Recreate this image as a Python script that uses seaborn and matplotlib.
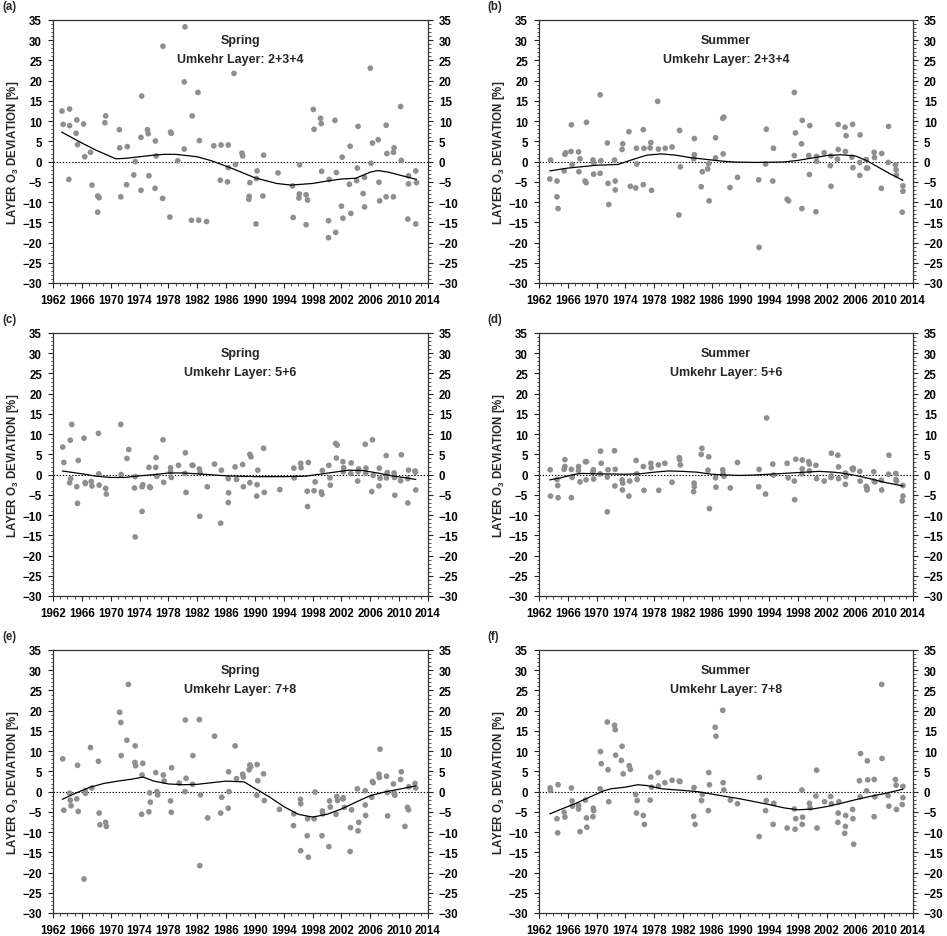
import numpy as np
import pandas as pd
import matplotlib
matplotlib.use("Agg")
import matplotlib.pyplot as plt
from matplotlib.ticker import MultipleLocator
import seaborn as sns

# ---------------- data ----------------
a_year = [1963.25, 1963.4, 1964.2, 1964.3, 1964.3, 1965.3, 1965.2, 1965.4, 1966.25, 1966.4,
          1967.2, 1967.4, 1968.2, 1968.4, 1968.2, 1969.3, 1969.2, 1971.2, 1971.25, 1971.4,
          1972.3, 1972.2, 1973.2, 1973.4, 1974.3, 1974.2, 1974.2, 1975.1, 1975.2, 1975.3,
          1976.2, 1976.3, 1976.15, 1977.25, 1977.2, 1978.3, 1978.4, 1978.2, 1979.3, 1980.3,
          1980.2, 1980.2, 1981.3, 1981.2, 1982.1, 1982.3, 1982.2, 1983.3, 1984.3, 1985.2,
          1985.3, 1986.3, 1986.2, 1986.3, 1987.1, 1987.3, 1988.2, 1988.3, 1989.2, 1989.15,
          1989.3, 1990.3, 1990.2, 1990.15, 1991.2, 1991.1, 1993.2, 1995.2, 1995.3, 1996.2,
          1996.15, 1996.1, 1997.1, 1997.3, 1997.1, 1998.1, 1998.2, 1999.1, 1999.2, 1999.25,
          2000.3, 2000.2, 2000.2, 2001.1, 2001.3, 2001.2, 2002.1, 2002.0, 2002.2, 2003.2,
          2003.1, 2003.3, 2004.3, 2004.2, 2004.1, 2005.2, 2005.0, 2005.2, 2006.0, 2006.3,
          2006.1, 2007.1, 2007.2, 2007.3, 2008.2, 2008.3, 2008.2, 2009.2, 2009.3, 2009.2,
          2010.2, 2010.3, 2011.3, 2011.3, 2011.2, 2012.3, 2012.4, 2012.3]
a_val = [12.5, 9.2, -4.4, 13.0, 8.9, 10.3, 7.0, 4.2, 9.3, 1.2,
         2.3, -5.8, -8.5, -8.9, -12.5, 11.3, 9.6, 7.9, 3.4, -8.7,
         3.7, -5.7, -3.3, 0.0, 16.2, 6.0, -7.1, 7.9, 6.9, -3.5,
         5.1, 1.4, -6.6, 28.5, -9.1, 7.3, 7.0, -13.7, 0.2, 33.3,
         19.7, 3.1, 11.3, -14.5, 17.1, 5.2, -14.5, -14.8, 3.9, -4.6,
         4.1, 4.1, -5.0, -1.5, 21.8, -0.7, 2.1, 1.4, -8.6, -9.3,
         -5.2, -2.3, -4.2, -15.4, 1.6, -8.5, -2.8, -6.0, -13.8, -0.8,
         -8.0, -9.0, -8.2, -9.5, -15.6, 12.9, 8.0, 10.7, 9.4, -2.4,
         -4.4, -14.6, -18.8, 10.2, -2.7, -17.5, 1.1, -11.0, -14.0, 3.8,
         -5.6, -12.8, 8.7, -1.6, -4.7, -3.9, -7.9, -11.2, 23.1, 4.6,
         -0.4, 5.4, -5.1, -9.7, 9.0, 2.0, -8.7, 2.3, 3.4, -8.7,
         13.6, 0.3, -3.5, -5.5, -14.2, -2.3, -5.2, -15.4]
a_fit_year = [1963.2, 1966, 1968, 1970.7, 1972, 1974, 1976, 1977.5, 1979, 1982, 1984, 1987,
              1990, 1993, 1995, 1998, 2000, 2002, 2004, 2006, 2007, 2008.5, 2010, 2012.4]
a_fit_val = [7.3, 4.6, 2.8, 0.7, 0.8, 1.2, 1.6, 1.8, 1.8, 1.2, 0.2, -1.8,
             -4.0, -5.4, -5.8, -5.4, -4.8, -4.3, -4.1, -2.6, -2.2, -2.6, -3.3, -4.4]

b_year = [1963.6, 1963.5, 1964.5, 1964.5, 1964.65, 1965.5, 1965.6, 1965.7, 1966.5, 1966.45,
          1966.6, 1967.5, 1967.7, 1967.55, 1968.6, 1968.4, 1968.55, 1969.5, 1969.6, 1969.6,
          1970.5, 1970.6, 1970.5, 1971.5, 1971.6, 1971.7, 1972.5, 1972.6, 1972.6, 1973.65,
          1973.55, 1974.5, 1974.7, 1975.55, 1975.6, 1975.45, 1976.5, 1976.6, 1976.5, 1977.55,
          1977.45, 1977.65, 1978.5, 1978.6, 1979.55, 1980.5, 1981.55, 1981.65, 1981.45, 1983.6,
          1983.6, 1983.5, 1984.7, 1984.55, 1985.6, 1985.45, 1985.65, 1986.55, 1986.55, 1987.55,
          1987.7, 1987.6, 1988.55, 1989.6, 1992.6, 1992.55, 1993.5, 1993.6, 1994.6, 1994.5,
          1996.5, 1996.7, 1997.5, 1997.65, 1997.5, 1998.6, 1998.5, 1998.55, 1999.65, 1999.5,
          1999.6, 2000.5, 2000.6, 2000.6, 2001.65, 2002.5, 2002.6, 2002.6, 2003.6, 2003.6,
          2003.5, 2004.55, 2004.7, 2004.6, 2005.6, 2005.5, 2005.65, 2006.65, 2006.6, 2006.6,
          2007.5, 2007.55, 2007.7, 2008.6, 2008.65, 2009.65, 2009.6, 2010.6, 2010.55, 2011.55,
          2011.65, 2011.7, 2012.6, 2012.6, 2012.5]
b_val = [0.4, -4.3, -4.8, -8.7, -11.6, -2.3, 1.8, 2.2, 9.1, 2.5,
         -0.7, 2.4, 0.7, -2.5, 9.7, -4.8, -5.2, 0.4, -0.3, -3.1,
         16.5, 0.2, -2.9, 4.6, -5.4, -10.6, 0.4, -4.8, -7.0, 4.4,
         3.0, 7.4, -6.1, 3.3, -0.6, -6.5, 7.9, 3.3, -5.7, 4.7,
         3.4, -7.1, 14.9, 3.1, 3.3, 3.6, 7.7, -1.3, -13.2, 5.7,
         1.7, 0.7, -2.5, -6.2, -0.5, -1.8, -9.7, 5.9, 0.9, 10.7,
         11.0, 1.9, -6.4, -3.9, -21.2, -4.5, -0.6, 8.0, 3.3, -4.8,
         -9.3, -9.7, 17.1, 7.1, 1.5, 10.2, 4.4, -11.6, 8.9, 1.5,
         -3.2, -12.4, 1.3, 0.1, 2.2, -1.0, 1.4, -6.1, 9.2, 3.0,
         0.6, 8.5, 6.4, 2.5, 9.2, 1.1, -1.5, 6.6, -0.2, -3.4,
         0.5, -1.6, -1.6, 2.3, 1.0, 2.0, -6.6, 8.7, -0.2, -0.8,
         -2.0, -3.3, -6.0, -7.3, -12.5]
b_fit_year = [1963.5, 1966, 1970, 1973, 1975, 1977, 1979, 1981, 1983, 1985, 1987, 1989,
              1992, 1996, 1998, 2000, 2002, 2004, 2006, 2007.5, 2009, 2011, 2012.6]
b_fit_val = [-2.3, -1.6, -0.9, -0.7, 0.5, 1.6, 1.9, 1.6, 1.0, 0.6, 0.2, -0.1,
             -0.2, -0.1, 0.3, 0.9, 1.5, 1.7, 1.4, 0.3, -1.2, -3.2, -4.6]

c_year = [1963.35, 1963.5, 1964.4, 1964.6, 1964.45, 1964.3, 1965.3, 1965.5, 1965.4, 1966.3,
          1966.45, 1966.5, 1967.3, 1967.4, 1968.3, 1968.35, 1968.4, 1969.3, 1969.4, 1971.4,
          1971.45, 1972.25, 1972.5, 1973.3, 1973.4, 1973.4, 1974.35, 1974.45, 1974.35, 1975.3,
          1975.4, 1975.5, 1976.3, 1976.25, 1976.4, 1977.25, 1977.35, 1978.3, 1978.3, 1978.4,
          1979.4, 1980.35, 1980.3, 1980.45, 1981.3, 1981.4, 1982.3, 1982.4, 1982.35, 1983.4,
          1984.4, 1985.35, 1985.25, 1986.3, 1986.35, 1986.3, 1987.25, 1987.45, 1988.3, 1988.4,
          1989.3, 1989.45, 1989.3, 1990.4, 1990.3, 1990.25, 1991.2, 1991.3, 1993.45, 1995.4,
          1995.45, 1996.35, 1996.4, 1997.4, 1997.25, 1997.3, 1998.35, 1998.2, 1999.35, 1999.2,
          1999.3, 2000.25, 2000.4, 2000.45, 2001.2, 2001.4, 2001.3, 2002.2, 2002.3, 2002.25,
          2003.35, 2003.3, 2004.25, 2004.4, 2004.3, 2005.3, 2005.4, 2005.35, 2006.3, 2006.4,
          2006.2, 2007.25, 2007.35, 2007.2, 2008.2, 2008.35, 2008.25, 2009.3, 2009.35, 2009.4,
          2010.3, 2010.2, 2011.2, 2011.3, 2011.2, 2012.2, 2012.25, 2012.3]
c_val = [6.8, 3.0, 8.5, 12.4, -1.0, -2.0, -3.0, 3.5, -7.1, 9.0,
         -2.0, -2.2, -1.7, -2.8, 10.2, 0.2, -2.6, -3.4, -4.8, 12.4,
         0.0, 4.0, 6.2, -3.3, -0.5, -15.4, -9.1, -2.5, -3.0, 1.8,
         -3.0, -3.2, 4.2, 1.8, -0.4, 8.6, -1.9, 1.7, 0.7, -0.7,
         2.3, 5.4, 0.3, -4.4, 2.3, 2.3, 1.4, 0.5, -10.3, -3.0,
         2.6, 1.1, -12.0, -1.0, -4.5, -6.9, 1.9, -1.2, 2.5, -3.0,
         5.0, 4.4, -2.0, 1.1, -2.5, -5.3, 6.5, -4.4, -3.7, 1.6,
         -0.8, 2.8, 1.7, 3.0, -4.1, -7.9, -1.8, -4.0, 1.0, -4.3,
         -4.9, 2.3, -0.8, -2.6, 7.7, 7.3, 4.1, 3.2, 1.7, 0.7,
         2.9, 0.3, -1.6, 1.4, 0.7, 7.5, 1.6, 0.4, 8.6, -0.2,
         -4.2, 1.6, -0.9, -2.8, 4.7, 0.5, -0.8, 0.4, -0.7, -5.1,
         4.9, -1.5, -7.0, 1.1, -1.0, 0.9, 0.6, -3.8]
c_fit_year = [1963.3, 1966, 1968, 1970, 1972, 1974, 1976, 1978, 1980, 1982, 1986, 1990,
              1994, 1997, 1999, 2001, 2003, 2005, 2007, 2009, 2011, 2012.3]
c_fit_val = [0.9, 0.2, -0.4, -0.7, -0.7, -0.3, 0.0, 0.4, 0.4, 0.2, -0.3, -0.5,
             -0.5, -0.4, 0.1, 0.6, 1.1, 1.0, 0.4, -0.3, -0.8, -1.2]

d_year = [1963.55, 1963.6, 1964.5, 1964.6, 1964.65, 1965.6, 1965.6, 1965.5, 1966.5, 1966.6,
          1966.5, 1967.5, 1967.5, 1967.7, 1968.45, 1968.6, 1968.55, 1969.55, 1969.5, 1969.6,
          1970.55, 1970.65, 1970.5, 1971.5, 1971.6, 1971.5, 1972.5, 1972.6, 1972.55, 1973.55,
          1973.65, 1973.6, 1974.6, 1974.5, 1975.5, 1975.6, 1975.65, 1976.5, 1976.6, 1977.55,
          1977.6, 1978.6, 1978.65, 1979.5, 1980.5, 1981.5, 1981.55, 1981.65, 1983.55, 1983.6,
          1983.5, 1984.65, 1984.55, 1985.6, 1985.5, 1985.7, 1986.55, 1986.6, 1987.55, 1987.7,
          1987.6, 1988.6, 1989.6, 1992.6, 1992.55, 1993.65, 1993.5, 1994.5, 1994.6, 1996.5,
          1996.65, 1997.7, 1997.5, 1997.55, 1998.6, 1998.6, 1998.55, 1999.5, 1999.6, 1999.6,
          2000.5, 2000.6, 2001.65, 2002.65, 2002.6, 2002.65, 2003.55, 2003.65, 2003.65, 2004.6,
          2004.65, 2004.6, 2005.55, 2005.7, 2005.65, 2006.6, 2006.65, 2007.5, 2007.6, 2007.65,
          2008.55, 2008.6, 2008.7, 2009.6, 2009.65, 2010.65, 2010.6, 2011.6, 2011.65, 2011.7,
          2012.6, 2012.6, 2012.5]
d_val = [1.2, -5.3, -1.2, -2.7, -5.7, 3.7, 2.0, 1.3, 1.3, -0.7,
         -5.7, 2.0, 1.0, -1.8, 3.2, 3.2, -1.3, 1.2, 0.6, -1.1,
         5.8, 2.8, 0.2, -9.2, 1.2, -0.6, 5.9, 1.3, -2.8, -1.3,
         -2.1, -3.8, -1.6, -5.3, 3.5, 0.2, -1.2, 2.0, -3.9, 2.8,
         1.7, 2.4, -3.9, 2.8, -1.9, 4.2, 3.7, 2.4, -2.1, -2.9,
         -4.2, 6.5, 5.0, 4.4, 1.1, -8.4, -0.8, -3.1, 1.2, -0.4,
         0.3, -3.3, 3.0, 1.3, -3.0, 14.0, -4.8, 2.6, -0.1, 2.8,
         -0.8, 3.8, -1.6, -6.2, 3.6, 1.4, 0.2, 3.2, 2.6, 0.9,
         2.3, -1.0, -1.6, 5.3, -0.7, -0.3, 4.8, 1.9, -1.0, 0.4,
         -0.5, -2.4, 1.5, 1.6, 1.2, 0.8, -1.6, -2.9, -3.8, -3.4,
         0.7, -1.6, -1.8, -1.4, -3.8, 4.8, 0.1, 0.3, -1.2, -1.6,
         -2.7, -5.3, -6.5]
d_fit_year = [1963.5, 1965, 1967, 1968, 1970, 1974, 1976, 1978, 1980, 1982, 1984, 1986,
              1988, 1990, 1992, 1994, 1996, 1999, 2001, 2003, 2004, 2006, 2008, 2010, 2012.6]
d_fit_val = [-1.3, -0.8, 0.1, 0.3, 0.2, 0.1, 0.2, 0.6, 0.9, 0.8, 0.6, 0.1,
             -0.1, -0.2, -0.1, 0.1, 0.3, 0.6, 0.8, 0.6, 0.4, -0.2, -1.0, -1.9, -2.8]

e_year = [1963.35, 1963.5, 1964.3, 1964.4, 1964.5, 1965.4, 1965.3, 1965.5, 1966.3, 1966.45,
          1966.5, 1967.2, 1967.4, 1968.3, 1968.4, 1968.5, 1969.3, 1969.4, 1971.25, 1971.4,
          1971.45, 1972.25, 1972.45, 1973.4, 1973.35, 1973.45, 1974.45, 1974.35, 1974.3, 1975.4,
          1975.5, 1975.3, 1976.25, 1976.4, 1976.5, 1977.3, 1977.4, 1978.45, 1978.3, 1978.4,
          1979.5, 1980.35, 1980.45, 1980.3, 1981.4, 1981.35, 1982.3, 1982.45, 1982.35, 1983.45,
          1984.4, 1985.4, 1985.25, 1986.35, 1986.4, 1986.3, 1987.25, 1987.45, 1988.3, 1988.4,
          1989.3, 1989.4, 1989.2, 1990.3, 1990.4, 1990.25, 1991.2, 1991.3, 1993.4, 1995.4,
          1995.35, 1996.3, 1996.35, 1996.35, 1997.3, 1997.25, 1997.4, 1998.35, 1998.2, 1999.35,
          1999.4, 1999.3, 2000.35, 2000.45, 2000.25, 2001.35, 2001.45, 2001.25, 2002.25, 2002.2,
          2002.4, 2003.4, 2003.25, 2003.2, 2004.2, 2004.4, 2004.3, 2005.3, 2005.3, 2005.35,
          2006.3, 2006.4, 2006.2, 2007.2, 2007.35, 2007.25, 2008.25, 2008.35, 2008.4, 2009.2,
          2009.3, 2009.4, 2010.3, 2010.2, 2010.8, 2011.15, 2011.3, 2011.35, 2012.2, 2012.3]
e_val = [8.1, -4.6, -0.4, -2.1, -3.5, 6.5, -1.8, -4.9, -21.6, 0.2,
         -0.4, 10.9, 0.9, 7.5, -5.3, -8.2, -7.6, -8.6, 19.6, 17.1,
         8.9, 12.7, 26.5, 11.3, 7.2, 6.4, 7.0, 4.1, -5.6, -0.3,
         -2.6, -5.0, 4.7, 0.0, -0.8, 4.1, 2.6, 5.9, -2.3, -5.1,
         2.1, 17.7, 3.3, 0.0, 8.9, 1.8, 17.8, -0.8, -18.3, -6.5,
         13.7, -1.4, -5.3, 4.9, 0.0, -4.1, 11.3, 3.2, 4.3, 3.6,
         6.6, 6.1, 5.4, 6.7, 2.7, -0.9, 4.4, -2.2, -4.4, -5.5,
         -8.4, -1.9, -3.0, -14.6, -6.7, -10.9, -16.2, -0.1, -6.7, -4.8,
         -5.5, -10.9, -2.3, -3.8, -13.6, -1.2, -2.2, -5.6, -1.5, -1.8,
         -3.9, -4.5, -8.9, -14.8, 0.7, -7.6, -9.7, 0.2, -3.3, -5.9,
         2.5, 2.2, -1.4, 4.3, 10.5, 3.5, 3.8, -0.2, -6.0, 1.9,
         -0.4, -0.9, 4.9, 3.0, -8.6, -3.9, -4.5, 1.2, 2.0, 0.9]
e_fit_year = [1963.3, 1965, 1967, 1969, 1971, 1973, 1974.5, 1976, 1978, 1980, 1982, 1984,
              1986, 1988.5, 1990, 1992, 1994, 1996, 1998, 2000, 2002, 2004, 2006, 2008,
              2010, 2012.3]
e_fit_val = [-1.9, -0.5, 1.0, 2.0, 2.6, 3.1, 3.6, 2.6, 1.9, 1.7, 1.8, 2.2,
             2.6, 2.4, 0.8, -1.3, -3.7, -5.6, -6.3, -5.6, -4.3, -2.6, -1.0, -0.1,
             0.6, 1.4]

f_year = [1963.55, 1963.6, 1964.5, 1964.6, 1964.65, 1965.5, 1965.6, 1966.5, 1966.6, 1966.65,
          1967.5, 1967.5, 1967.7, 1968.45, 1968.6, 1968.65, 1969.55, 1969.6, 1969.5, 1970.55,
          1970.65, 1970.5, 1971.5, 1971.6, 1971.7, 1972.5, 1972.6, 1972.65, 1973.55, 1973.45,
          1973.7, 1974.55, 1974.7, 1975.45, 1975.65, 1975.55, 1976.5, 1976.65, 1977.55, 1977.65,
          1977.45, 1978.55, 1978.6, 1979.5, 1980.5, 1981.5, 1981.6, 1983.55, 1983.5, 1983.7,
          1984.7, 1984.6, 1985.6, 1985.7, 1985.55, 1986.5, 1986.6, 1987.55, 1987.6, 1987.7,
          1988.6, 1989.6, 1992.65, 1992.6, 1993.6, 1993.5, 1994.65, 1994.55, 1996.5, 1997.5,
          1997.7, 1997.6, 1998.55, 1998.65, 1998.6, 1999.6, 1999.7, 2000.6, 2000.5, 2000.65,
          2001.7, 2002.55, 2002.65, 2003.7, 2003.6, 2003.55, 2004.5, 2004.65, 2004.6, 2005.6,
          2005.65, 2005.75, 2006.7, 2006.55, 2006.65, 2007.65, 2007.7, 2007.55, 2008.6, 2008.7,
          2008.6, 2009.65, 2009.7, 2010.55, 2010.65, 2011.55, 2011.65, 2011.7, 2012.6, 2012.6,
          2012.5]
f_val = [0.9, 0.3, -6.7, -10.2, 1.7, -5.1, -6.3, 0.9, -2.3, -3.6,
         -3.4, -4.3, -9.9, -2.1, -6.5, -8.8, -4.1, -4.7, -6.2, 9.9,
         6.9, 0.7, 17.2, 5.4, -2.5, 16.4, 15.3, 9.0, 11.2, 7.7,
         4.4, 6.4, 5.5, -0.7, -2.2, -5.3, -5.9, -8.1, 3.6, 1.1,
         -2.1, 4.7, 1.4, 2.2, 2.8, 2.6, 2.5, 1.0, -6.1, -8.1,
         -0.7, -2.2, 4.7, 1.7, -4.7, 15.9, 13.7, 20.1, 2.2, 0.4,
         -2.1, -3.0, 3.5, -11.1, -2.2, -4.7, -2.9, -8.1, -9.0, -4.3,
         -6.7, -9.3, 0.4, -6.3, -8.1, -2.9, -4.0, 5.3, -1.1, -9.0,
         -2.5, -1.2, -3.0, -2.5, -5.3, -7.6, -10.3, -5.9, -8.6, -4.4,
         -6.7, -13.0, 9.4, 2.7, -1.3, 7.6, 2.9, 0.2, 3.0, -1.3,
         -6.2, 26.5, 8.2, -1.0, -3.6, 3.0, 1.6, -4.4, 1.3, -1.5,
         -3.2]
f_fit_year = [1963.5, 1965, 1967, 1969, 1971, 1972, 1974, 1975.7, 1977, 1979, 1982, 1984,
              1986, 1988, 1990, 1992, 1994, 1996, 1998, 2000, 2002, 2004, 2006, 2008,
              2010, 2012.6]
f_fit_val = [-5.5, -4.4, -3.0, -1.4, 0.2, 0.7, 1.1, 1.7, 1.5, 0.7, 0.3, 0.0,
             -0.6, -1.2, -1.8, -2.5, -3.2, -4.0, -4.5, -4.3, -3.7, -2.9, -2.0, -1.2,
             -0.5, 0.6]

panel_labels = ["(a)", "(b)", "(c)", "(d)", "(e)", "(f)"]
seasons = ["Spring", "Summer", "Spring", "Summer", "Spring", "Summer"]
layers = ["2+3+4", "2+3+4", "5+6", "5+6", "7+8", "7+8"]
x_ticks = list(range(1962, 2015, 4))
y_ticks = list(range(-30, 36, 5))
ylabel = "LAYER O$_\\mathregular{3}$ DEVIATION [%]"

panels = [
    (a_year, a_val, a_fit_year, a_fit_val),
    (b_year, b_val, b_fit_year, b_fit_val),
    (c_year, c_val, c_fit_year, c_fit_val),
    (d_year, d_val, d_fit_year, d_fit_val),
    (e_year, e_val, e_fit_year, e_fit_val),
    (f_year, f_val, f_fit_year, f_fit_val),
]

# ---------------- style ----------------
sns.set_style("ticks")
plt.rcParams["font.family"] = ["Liberation Sans", "DejaVu Sans"]
plt.rcParams["font.weight"] = "bold"
plt.rcParams["axes.labelweight"] = "bold"
plt.rcParams["axes.linewidth"] = 0.9
plt.rcParams["axes.edgecolor"] = "#333333"

W, H = 947, 937
fig = plt.figure(figsize=(W / 100, H / 100), dpi=100)

col_x = [53, 539]
col_w = [375, 374]
row_top = [21, 334, 651]
row_h = 263

point_color = "#8f8f8f"
fs = 8.3
fs_title = 9.0

for i, (yr, vals, fy, fv) in enumerate(panels):
    r, c = divmod(i, 2)
    left = col_x[c] / W
    bottom = 1 - (row_top[r] + row_h) / H
    ax = fig.add_axes([left, bottom, col_w[c] / W, row_h / H])

    df = pd.DataFrame({"year": yr, "dev": vals})
    fit = pd.DataFrame({"year": fy, "dev": fv})

    ax.axhline(0, color="black", lw=0.8, ls=(0, (1.2, 1.6)), zorder=1)
    sns.scatterplot(data=df, x="year", y="dev", ax=ax, color=point_color,
                    s=17, edgecolor="none", linewidth=0, zorder=2, legend=False)
    sns.lineplot(data=fit, x="year", y="dev", ax=ax, color="black", lw=0.9,
                 estimator=None, sort=True, zorder=3, legend=False)

    ax.set_xlim(1962, 2014)
    ax.set_ylim(-30, 35)
    ax.set_xticks(x_ticks)
    ax.set_yticks(y_ticks)
    ax.xaxis.set_minor_locator(MultipleLocator(1))
    ax.yaxis.set_minor_locator(MultipleLocator(1))
    ax.set_xticklabels([str(t) for t in x_ticks])
    ax.set_yticklabels([str(t).replace("-", "\u2212") for t in y_ticks])
    ax.tick_params(which="major", direction="out", length=3.6, width=0.8,
                   labelsize=fs, left=True, right=True, bottom=True, top=False,
                   labelleft=True, labelright=True, pad=4.3, colors="#222222",
                   labelcolor="black")
    ax.tick_params(axis="x", which="major", pad=4.3)
    ax.tick_params(which="minor", direction="out", length=1.8, width=0.6,
                   left=True, right=True, bottom=True, top=False, colors="#333333")
    for lab in ax.get_xticklabels() + ax.get_yticklabels():
        lab.set_fontweight("bold")
    for sp in ax.spines.values():
        sp.set_visible(True)

    ax.set_xlabel("")
    ax.set_ylabel(ylabel, fontsize=fs, fontweight="bold", labelpad=1)

    ax.text(0.5, 0.925, seasons[i], transform=ax.transAxes, ha="center",
            va="center", fontsize=fs_title, fontweight="bold")
    ax.text(0.5, 0.853, "Umkehr Layer: " + layers[i], transform=ax.transAxes,
            ha="center", va="center", fontsize=fs_title, fontweight="bold")

    lx = 2 if c == 0 else 487
    ly = [7, 320, 637][r]
    fig.text(lx / W, 1 - ly / H, panel_labels[i], ha="left", va="center",
             fontsize=fs, fontweight="bold")

fig.savefig("out.png", dpi=100)
